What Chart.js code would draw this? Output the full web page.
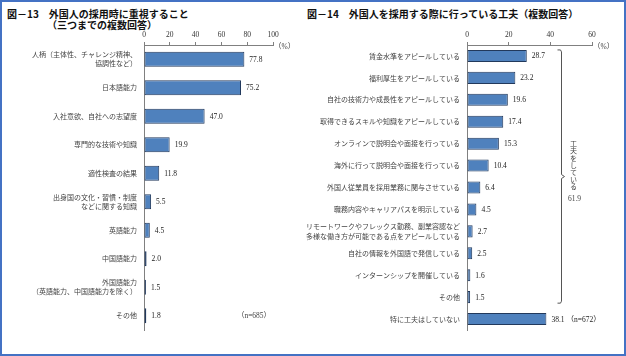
<!DOCTYPE html>
<html><head><meta charset="utf-8">
<script src="https://cdn.jsdelivr.net/npm/chart.js@4/dist/chart.umd.min.js"></script>
<style>
html,body{margin:0;padding:0;background:#fff;}
#wrap{position:relative;width:626px;height:356px;overflow:hidden;}
#frame{position:absolute;left:0;top:0;width:626px;height:356px;box-sizing:border-box;border:2px solid #4472c4;pointer-events:none;z-index:5;}
.t{position:absolute;font-family:'Noto Sans CJK JP',sans-serif;font-weight:bold;font-size:10px;line-height:11px;color:#111;white-space:nowrap;}
canvas{position:absolute;top:0;}
</style></head>
<body><div id="wrap">
<div class="t" style="left:7px;top:8px;">図－13　外国人の採用時に重視すること</div>
<div class="t" style="left:47px;top:19px;">（三つまでの複数回答）</div>
<div class="t" style="left:307px;top:8px;">図－14　外国人を採用する際に行っている工夫（複数回答）</div>
<div style="position:absolute;left:0;top:0;width:300px;height:356px;"><canvas id="c1" width="300" height="356"></canvas></div>
<div style="position:absolute;left:300px;top:0;width:326px;height:356px;"><canvas id="c2" width="326" height="356"></canvas></div>
<div id="frame"></div>
</div>
<script>
// ---- data ----
const leftCategories = [
  ["人柄（主体性、チャレンジ精神、","協調性など）"],
  "日本語能力",
  "入社意欲、自社への志望度",
  "専門的な技術や知識",
  "適性検査の結果",
  ["出身国の文化・習慣・制度","などに関する知識"],
  "英語能力",
  "中国語能力",
  ["外国語能力","（英語能力、中国語能力を除く）"],
  "その他"
];
const leftValues = [77.8, 75.2, 47.0, 19.9, 11.8, 5.5, 4.5, 2.0, 1.5, 1.8];
const leftTicks = [0, 20, 40, 60, 80, 100];
const leftNote = "（n=685）";

const rightCategories = [
  "賃金水準をアピールしている",
  "福利厚生をアピールしている",
  "自社の技術力や成長性をアピールしている",
  "取得できるスキルや知識をアピールしている",
  "オンラインで説明会や面接を行っている",
  "海外に行って説明会や面接を行っている",
  "外国人従業員を採用業務に関与させている",
  "職務内容やキャリアパスを明示している",
  ["リモートワークやフレックス勤務、副業容認など","多様な働き方が可能である点をアピールしている"],
  "自社の情報を外国語で発信している",
  "インターンシップを開催している",
  "その他",
  "特に工夫はしていない"
];
const rightValues = [28.7, 23.2, 19.6, 17.4, 15.3, 10.4, 6.4, 4.5, 2.7, 2.5, 1.6, 1.5, 38.1];
const rightTicks = [0, 20, 40, 60];
const rightNote = "（n=672）";
const bracketLabel = "工夫をしている";
const bracketValue = "61.9";

// ---- styling ----
const FONT = "'Liberation Serif','Noto Sans CJK JP',serif";
Chart.defaults.font.family = FONT;
Chart.defaults.color = '#333';
const BAR_FILL = '#4f81bd';
const BAR_EDGE = '#22395c';
const AXIS = '#808080';

const valueLabels = {
  id: 'valueLabels',
  afterDatasetsDraw(chart, args, opts) {
    const ctx = chart.ctx;
    const meta = chart.getDatasetMeta(0);
    ctx.save();
    ctx.font = "7.5px " + FONT;
    ctx.fillStyle = '#222';
    ctx.textBaseline = 'middle';
    ctx.textAlign = 'left';
    meta.data.forEach((bar, i) => {
      const v = chart.data.datasets[0].data[i];
      const txt = v.toFixed(1);
      ctx.fillText(txt, bar.x + 5, bar.y + 0.5);
      if (opts.noteOnLast && i === meta.data.length - 1) {
        const w = ctx.measureText(txt).width;
        ctx.fillText(opts.noteOnLast, bar.x + 5 + w + 2, bar.y + 0.5);
      }
    });
    const xs = chart.scales.x;
    ctx.fillStyle = '#444';
    ctx.font = "7.5px " + FONT;
    ctx.fillText("（%）", chart.chartArea.right + 1, chart.chartArea.top + 2);
    if (opts.noteAt) {
      const ys = chart.scales.y;
      const idx = chart.data.labels.length - 1;
      ctx.fillText(opts.noteAt.text, xs.getPixelForValue(opts.noteAt.value), ys.getPixelForValue(idx) + 0.5);
    }
    if (opts.bracket) {
      const b = opts.bracket;
      const first = meta.data[b.from], last = meta.data[b.to];
      const top = first.y - first.height / 2;
      const bot = last.y + last.height / 2;
      const bx = Math.round(xs.getPixelForValue(b.atValue)) + 0.5;
      const mid = (top + bot) / 2;
      ctx.strokeStyle = '#555';
      ctx.lineWidth = 1;
      ctx.beginPath();
      ctx.moveTo(bx - 4, top); ctx.lineTo(bx - 1, top); ctx.lineTo(bx, top + 2);
      ctx.lineTo(bx, mid - 2); ctx.lineTo(bx + 3, mid); ctx.lineTo(bx, mid + 2);
      ctx.lineTo(bx, bot - 2); ctx.lineTo(bx - 1, bot); ctx.lineTo(bx - 4, bot);
      ctx.stroke();
      ctx.fillStyle = '#444';
      ctx.font = "7px 'Noto Sans CJK JP',sans-serif";
      ctx.textAlign = 'center';
      const tx = bx + 12;
      const chars = Array.from(b.label);
      chars.forEach((ch, k) => ctx.fillText(ch, tx, mid - 33 + k * 7.2));
      ctx.font = "7.5px " + FONT;
      ctx.fillText(b.value, tx + 1, mid + 22);
    }
    ctx.restore();
  }
};

function makeChart(id, labels, values, max, ticksArr, yWidth, padRight, barPct, extra) {
  return new Chart(document.getElementById(id), {
    type: 'bar',
    data: { labels: labels, datasets: [{ data: values, backgroundColor: BAR_FILL, borderColor: BAR_EDGE, borderWidth: 1, borderSkipped: false, categoryPercentage: 1, barPercentage: barPct }] },
    plugins: [valueLabels],
    options: {
      indexAxis: 'y',
      responsive: false,
      animation: false,
      events: [],
      layout: { padding: { left: 0, right: padRight, top: 0, bottom: 26 } },
      plugins: { legend: { display: false }, tooltip: { enabled: false }, valueLabels: extra },
      scales: {
        x: {
          position: 'top', min: 0, max: max,
          afterFit: s => { s.height = 45; },
          afterBuildTicks: s => { s.ticks = ticksArr.map(v => ({ value: v })); },
          grid: { drawOnChartArea: false, drawTicks: true, tickLength: 3, color: AXIS, tickColor: AXIS },
          border: { display: true, color: AXIS, width: 1 },
          ticks: { padding: 2, font: { size: 7.5 }, color: '#333', maxRotation: 0 }
        },
        y: {
          afterFit: s => { s.width = yWidth; },
          grid: { display: false, drawTicks: false },
          border: { display: true, color: AXIS, width: 1 },
          ticks: { autoSkip: false, padding: 7, font: { family: "'Noto Sans CJK JP',sans-serif", size: 7, lineHeight: 1.3 }, color: '#444' }
        }
      }
    }
  });
}

makeChart('c1', leftCategories, leftValues, 100, leftTicks, 144, 27, 0.53, { noteAt: { text: leftNote, value: 72 } });
makeChart('c2', rightCategories, rightValues, 60, rightTicks, 167, 34, 0.55, { noteOnLast: rightNote, bracket: { from: 0, to: 11, atValue: 45, label: bracketLabel, value: bracketValue } });
</script>
</body></html>
